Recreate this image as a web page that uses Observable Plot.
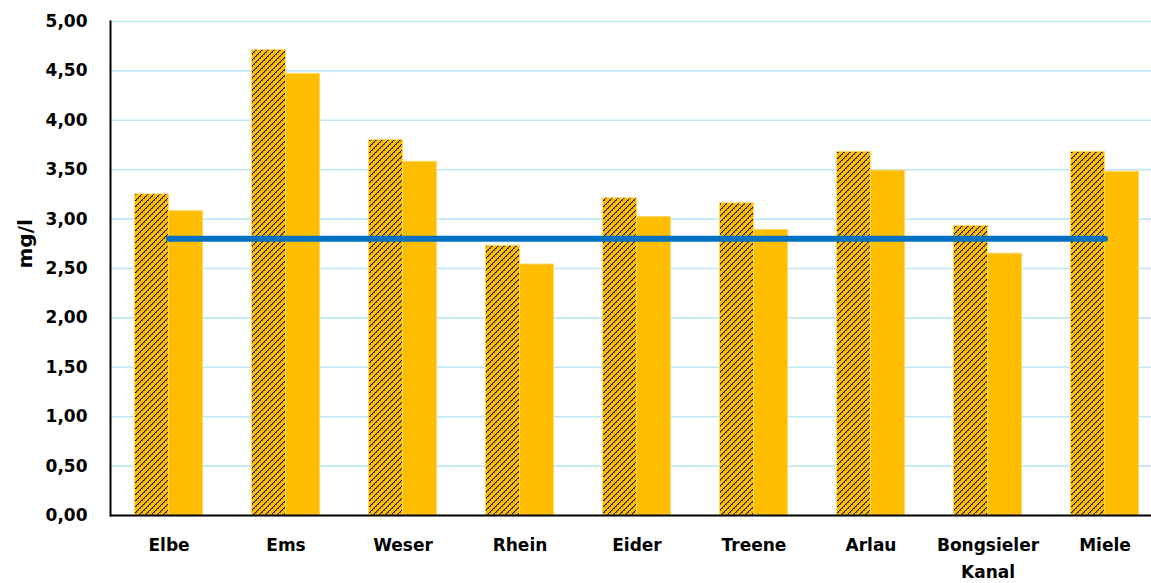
<!DOCTYPE html>
<html>
<head>
<meta charset="utf-8">
<script src="https://cdn.jsdelivr.net/npm/d3@7"></script>
<script src="https://cdn.jsdelivr.net/npm/@observablehq/plot@0.6"></script>
<style>
  body { margin: 0; background: #fff; }
  #chart svg { display: block; }
</style>
</head>
<body>
<div id="chart"></div>
<script>
// Rivers and their two concentration series (mg/l)
const rivers = ["Elbe", "Ems", "Weser", "Rhein", "Eider", "Treene", "Arlau", "Bongsieler Kanal", "Miele"];
const hatchedValues = [3.25, 4.71, 3.80, 2.73, 3.21, 3.16, 3.68, 2.93, 3.68];
const solidValues = [3.08, 4.47, 3.58, 2.54, 3.02, 2.89, 3.49, 2.65, 3.48];
const referenceLevel = 2.8;
const yTicks = [0, 0.5, 1, 1.5, 2, 2.5, 3, 3.5, 4, 4.5, 5];

const hatchedRows = rivers.map((river, i) => ({river, value: hatchedValues[i]}));
const solidRows = rivers.map((river, i) => ({river, value: solidValues[i]}));
const referenceRows = rivers.map(river => ({river, value: referenceLevel}));

const GOLD = "#FFBD00";
const EDGE = "#FFD761";
const band = 117;      // width of one river's slot
const barW = 34;       // width of each bar
const fontFamily = "'DejaVu Sans', sans-serif";

// Pixel-aligned dotted upward diagonal hatch used for the first series
function hatchDefs() {
  const n = 6;
  const defs = d3.create("svg:defs");
  const p = defs.append("pattern")
    .attr("id", "hatch")
    .attr("patternUnits", "userSpaceOnUse")
    .attr("width", n)
    .attr("height", n);
  p.append("rect").attr("width", n).attr("height", n).attr("fill", GOLD);
  for (let i = 0; i < n; i++) {
    p.append("rect").attr("x", n - 1 - i).attr("y", i).attr("width", 1).attr("height", 1)
      .attr("fill", "#000").attr("shape-rendering", "crispEdges");
    if (i % 2 === 0) {
      p.append("rect").attr("x", (n - i) % n).attr("y", i).attr("width", 1).attr("height", 1)
        .attr("fill", "#7a5a00").attr("shape-rendering", "crispEdges");
    }
  }
  return defs.node();
}

const chart = Plot.plot({
  width: 1151,
  height: 583,
  marginLeft: 110,
  marginRight: 0,
  marginTop: 21,
  marginBottom: 68,
  style: {fontFamily, fontWeight: "bold", color: "#000", background: "#fff"},
  x: {domain: rivers, range: [109.5, 109.5 + band * rivers.length], padding: 0},
  y: {domain: [0, 5]},
  marks: [
    hatchDefs,
    Plot.gridY(yTicks.filter(d => d > 0), {stroke: "#BFE7F9", strokeOpacity: 1, strokeWidth: 1.6}),
    Plot.barY(hatchedRows, {
      x: "river", y: "value", fill: "url(#hatch)", stroke: EDGE, strokeWidth: 1,
      insetLeft: band / 2 - barW, insetRight: band / 2
    }),
    Plot.barY(solidRows, {
      x: "river", y: "value", fill: GOLD, stroke: EDGE, strokeWidth: 1,
      insetLeft: band / 2, insetRight: band / 2 - barW
    }),
    Plot.lineY(referenceRows, {x: "river", y: "value", stroke: "#0070C0", strokeWidth: 6, strokeLinecap: "round"}),
    Plot.axisY({
      ticks: yTicks, tickSize: 0, tickPadding: 23, fontSize: 17, label: null,
      tickFormat: d => d.toFixed(2).replace(".", ",")
    }),
    Plot.axisX({
      tickSize: 0, tickPadding: 17, fontSize: 17, label: null, lineHeight: 1.55,
      tickFormat: d => d.replace(" ", "\n")
    }),
    Plot.text(["mg/l"], {frameAnchor: "left", dx: -85, rotate: -90, fontSize: 20, fontWeight: "bold"}),
    Plot.frame({anchor: "left", stroke: "#000", strokeWidth: 2}),
    Plot.ruleY([0], {stroke: "#000", strokeWidth: 2})
  ]
});

document.getElementById("chart").append(chart);
</script>
</body>
</html>
